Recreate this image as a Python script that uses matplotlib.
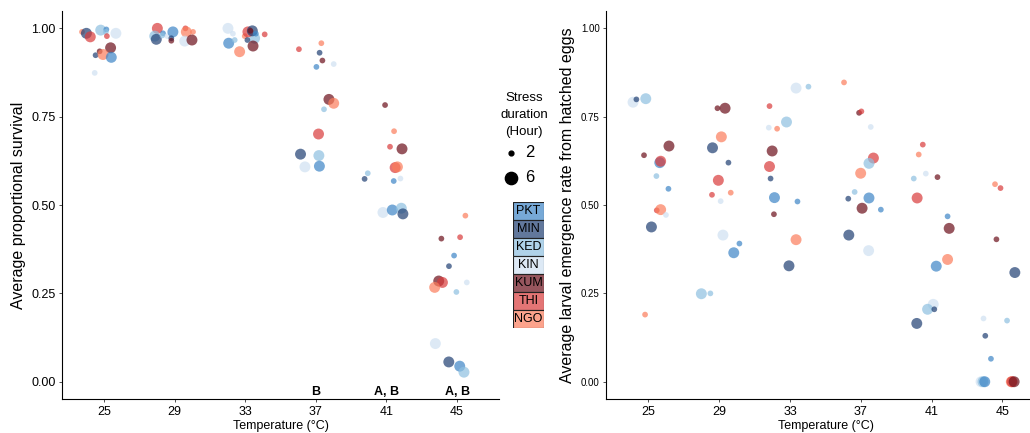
import matplotlib
matplotlib.use("Agg")
import matplotlib.pyplot as plt
from matplotlib.patches import Rectangle

plt.rcParams['font.family'] = ['Liberation Sans', 'DejaVu Sans']

# populations and their colours
pops = ['PKT', 'MIN', 'KED', 'KIN', 'KUM', 'THI', 'NGO']
pop_colors = ['#3d85c6', '#1f3f73', '#8ec0e0', '#cfe1f2', '#6b0f1a', '#d93b3b', '#fb7d5b']
durations = [2, 6]
temps = [25, 29, 33, 37, 41, 45]
letters = ['', '', '', 'B', 'A, B', 'A, B']

# left panel: average proportional survival (x = temperature with jitter as read)
surv_x = [23.75, 24.00, 24.22, 24.81, 25.13, 25.10, 25.16, 25.67, 25.37, 24.75, 24.52, 24.94, 25.41, 24.47,
          28.02, 27.87, 27.96, 28.34, 28.59, 28.90, 28.81, 28.81, 29.61, 29.66, 30.04, 29.57, 29.98, 28.30,
          32.02, 32.06, 32.40, 32.68, 32.97, 33.53, 33.15, 33.40, 33.29, 33.12, 33.44, 34.10, 33.60, 32.30,
          36.04, 37.31, 37.21, 37.37, 37.03, 38.01, 37.74, 38.01, 37.46, 37.15, 36.13, 37.17, 36.38, 37.20,
          40.92, 41.43, 41.20, 41.88, 41.49, 41.62, 39.94, 39.76, 41.41, 41.79, 40.80, 41.33, 41.84, 41.93,
          44.11, 45.17, 44.83, 44.54, 43.96, 44.17, 43.73, 45.55, 44.96, 45.47, 43.77, 44.53, 45.15, 45.39]
surv_y = [0.990, 0.986, 0.976, 0.995, 0.997, 0.990, 0.978, 0.986, 0.945, 0.935, 0.924, 0.926, 0.918, 0.874,
          1.000, 0.978, 0.969, 0.986, 0.978, 0.990, 0.972, 0.965, 1.000, 0.990, 0.990, 0.964, 0.967, 0.980,
          1.000, 0.958, 0.967, 0.934, 0.978, 0.972, 0.990, 0.993, 0.993, 0.967, 0.950, 0.983, 0.985, 0.985,
          0.941, 0.958, 0.931, 0.909, 0.891, 0.899, 0.799, 0.788, 0.771, 0.701, 0.644, 0.640, 0.608, 0.610,
          0.783, 0.709, 0.665, 0.659, 0.606, 0.608, 0.590, 0.574, 0.568, 0.575, 0.479, 0.486, 0.491, 0.475,
          0.405, 0.409, 0.357, 0.327, 0.285, 0.281, 0.267, 0.281, 0.254, 0.470, 0.108, 0.056, 0.044, 0.027]
surv_pop = ['NGO', 'MIN', 'THI', 'KED', 'PKT', 'KED', 'THI', 'KIN', 'KUM', 'KUM', 'MIN', 'NGO', 'PKT', 'KIN',
            'THI', 'KED', 'MIN', 'PKT', 'KIN', 'PKT', 'MIN', 'KUM', 'THI', 'NGO', 'NGO', 'KIN', 'KUM', 'KED',
            'KIN', 'PKT', 'KED', 'NGO', 'NGO', 'KED', 'THI', 'MIN', 'KUM', 'MIN', 'KUM', 'THI', 'PKT', 'KIN',
            'THI', 'NGO', 'MIN', 'KUM', 'PKT', 'KIN', 'KUM', 'NGO', 'KED', 'THI', 'MIN', 'KED', 'KIN', 'PKT',
            'KUM', 'NGO', 'THI', 'KUM', 'THI', 'NGO', 'KED', 'MIN', 'PKT', 'KIN', 'KIN', 'PKT', 'KED', 'MIN',
            'KUM', 'THI', 'PKT', 'MIN', 'KUM', 'THI', 'NGO', 'KIN', 'KED', 'NGO', 'KIN', 'MIN', 'PKT', 'KED']
surv_hr = [2, 6, 6, 6, 2, 2, 2, 6, 6, 2, 2, 6, 6, 2,
           6, 6, 6, 2, 2, 6, 2, 2, 2, 6, 2, 6, 6, 2,
           6, 6, 2, 6, 2, 6, 6, 6, 2, 2, 6, 2, 2, 2,
           2, 2, 2, 2, 2, 2, 6, 6, 2, 6, 6, 6, 6, 6,
           2, 2, 2, 6, 6, 6, 2, 2, 2, 2, 6, 6, 6, 6,
           2, 2, 2, 2, 6, 6, 6, 2, 2, 2, 6, 6, 6, 6]

# right panel: average larval emergence rate from hatched eggs
emer_x = [24.13, 24.32, 24.85, 24.75, 26.16, 25.64, 25.69, 25.45, 26.13, 25.47, 25.69, 25.99, 25.17, 24.81,
          28.62, 28.90, 29.33, 29.12, 29.52, 28.95, 28.59, 29.65, 29.08, 29.21, 30.14, 29.82, 27.99, 28.50,
          33.34, 34.04, 31.84, 32.80, 31.80, 32.27, 31.99, 31.84, 31.90, 32.12, 33.42, 32.09, 33.34, 32.94,
          36.05, 36.90, 37.03, 37.56, 37.71, 37.46, 36.99, 36.65, 36.29, 37.46, 37.07, 38.13, 36.32, 37.44,
          40.50, 40.27, 40.67, 39.99, 41.33, 40.18, 41.90, 41.99, 41.90, 41.26, 41.09, 40.77, 41.15, 40.16,
          44.58, 44.89, 44.66, 45.70, 43.93, 45.26, 44.03, 44.35, 43.79, 43.90, 44.00, 45.50, 45.54, 45.66]
emer_y = [0.791, 0.799, 0.801, 0.641, 0.667, 0.620, 0.624, 0.582, 0.546, 0.485, 0.487, 0.472, 0.438, 0.190,
          0.662, 0.774, 0.774, 0.693, 0.620, 0.570, 0.529, 0.535, 0.511, 0.415, 0.391, 0.365, 0.249, 0.250,
          0.831, 0.835, 0.780, 0.735, 0.719, 0.716, 0.653, 0.609, 0.575, 0.521, 0.510, 0.474, 0.402, 0.328,
          0.847, 0.761, 0.765, 0.721, 0.633, 0.618, 0.590, 0.537, 0.518, 0.520, 0.491, 0.487, 0.415, 0.371,
          0.671, 0.643, 0.589, 0.575, 0.579, 0.520, 0.468, 0.434, 0.346, 0.327, 0.219, 0.205, 0.205, 0.165,
          0.559, 0.548, 0.403, 0.309, 0.179, 0.173, 0.130, 0.065, 0.000, 0.000, 0.000, 0.000, 0.000, 0.000]
emer_pop = ['KIN', 'MIN', 'KED', 'KUM', 'KUM', 'PKT', 'THI', 'KED', 'PKT', 'THI', 'NGO', 'KIN', 'MIN', 'NGO',
            'MIN', 'KUM', 'KUM', 'NGO', 'MIN', 'THI', 'THI', 'NGO', 'KIN', 'KIN', 'PKT', 'PKT', 'KED', 'KED',
            'KIN', 'KED', 'THI', 'KED', 'KIN', 'NGO', 'KUM', 'THI', 'MIN', 'PKT', 'PKT', 'KUM', 'NGO', 'MIN',
            'NGO', 'KUM', 'THI', 'KIN', 'THI', 'KED', 'NGO', 'KED', 'MIN', 'PKT', 'KUM', 'PKT', 'MIN', 'KIN',
            'THI', 'NGO', 'KIN', 'KED', 'KUM', 'THI', 'PKT', 'KUM', 'NGO', 'PKT', 'KIN', 'KED', 'MIN', 'MIN',
            'NGO', 'THI', 'KUM', 'MIN', 'KIN', 'KED', 'MIN', 'PKT', 'KIN', 'KED', 'PKT', 'NGO', 'THI', 'KUM']
emer_hr = [6, 2, 6, 2, 6, 6, 6, 2, 2, 2, 6, 2, 6, 2,
           6, 2, 6, 6, 2, 6, 2, 2, 2, 6, 2, 6, 6, 2,
           6, 2, 2, 6, 2, 2, 6, 6, 2, 6, 2, 2, 6, 6,
           2, 2, 2, 2, 6, 6, 6, 2, 2, 6, 6, 2, 6, 6,
           2, 2, 2, 2, 2, 6, 2, 6, 6, 6, 6, 6, 2, 6,
           2, 2, 2, 6, 2, 2, 2, 2, 6, 6, 6, 6, 6, 6]

size_map = {2: 17, 6: 62}
color_map = dict(zip(pops, pop_colors))

fig = plt.figure(figsize=(10.3, 4.33), dpi=100)
ax1 = fig.add_axes([0.0599, 0.0776, 0.425, 0.8977])
ax2 = fig.add_axes([0.5883, 0.0776, 0.4262, 0.8977])


def draw_panel(ax, xs, ys, ps, hs, ylabel, ytick_size):
    ax.scatter(xs, ys, s=[size_map[h] for h in hs], c=[color_map[p] for p in ps],
               alpha=0.7, linewidths=0, zorder=3)
    ax.set_xlim(22.6, 47.4)
    ax.set_ylim(-0.05, 1.05)
    ax.set_xticks(temps)
    ax.set_xticklabels([str(t) for t in temps], family=['Liberation Sans Narrow', 'Liberation Sans'],
                       fontsize=9)
    ax.set_yticks([0, 0.25, 0.5, 0.75, 1.0])
    ax.set_yticklabels(['0.00', '0.25', '0.50', '0.75', '1.00'], fontsize=ytick_size)
    for side in ['top', 'right']:
        ax.spines[side].set_visible(False)
    for side in ['left', 'bottom']:
        ax.spines[side].set_linewidth(0.8)
        ax.spines[side].set_color('black')
    ax.tick_params(length=2.5, width=0.6, color='#333333', labelcolor='black', pad=2)
    ax.set_xlabel('Temperature (°C)', family=['Liberation Sans Narrow', 'Liberation Sans'],
                  fontsize=9, labelpad=2)
    ax.set_ylabel(ylabel, fontsize=11.5, labelpad=4)


draw_panel(ax1, surv_x, surv_y, surv_pop, surv_hr, 'Average proportional survival', 9)
draw_panel(ax2, emer_x, emer_y, emer_pop, emer_hr,
           'Average larval emergence rate from hatched eggs', 7)

for t, lab in zip(temps, letters):
    if lab:
        ax1.text(t, -0.047, lab, ha='center', va='bottom', fontsize=9, fontweight='bold')

# legend: stress duration
fig.text(524 / 1030, 1 - 98 / 433, 'Stress', ha='center', va='center', fontsize=9.5)
fig.text(524 / 1030, 1 - 115 / 433, 'duration', ha='center', va='center', fontsize=9.5)
fig.text(524 / 1030, 1 - 132 / 433, '(Hour)', ha='center', va='center', fontsize=9.5)
lax = fig.add_axes([500 / 1030, 1 - 190 / 433, 45 / 1030, 50 / 433])
lax.set_xlim(0, 1)
lax.set_ylim(0, 2)
lax.axis('off')
for i, d in enumerate(durations):
    lax.scatter([0.24], [1.5 - i], s=[12, 78][i], color='black', clip_on=False)
    lax.text(0.55, 1.5 - i, str(d), ha='left', va='center', fontsize=12)

# legend: populations as stacked boxes
bax = fig.add_axes([512.7 / 1030, 1 - 328.3 / 433, 31.6 / 1030, 126.6 / 433])
bax.set_xlim(0, 1)
bax.set_ylim(0, len(pops))
bax.axis('off')
for i, (p, c) in enumerate(zip(pops, pop_colors)):
    y0 = len(pops) - 1 - i
    bax.add_patch(Rectangle((0, y0), 1, 1, facecolor=c, alpha=0.7, edgecolor='none'))
    bax.add_patch(Rectangle((0, y0), 1, 1, facecolor='none', edgecolor='#222222', linewidth=0.8))
    bax.text(0.5, y0 + 0.5, p, ha='center', va='center', fontsize=9)

fig.savefig('out.png', dpi=100)
